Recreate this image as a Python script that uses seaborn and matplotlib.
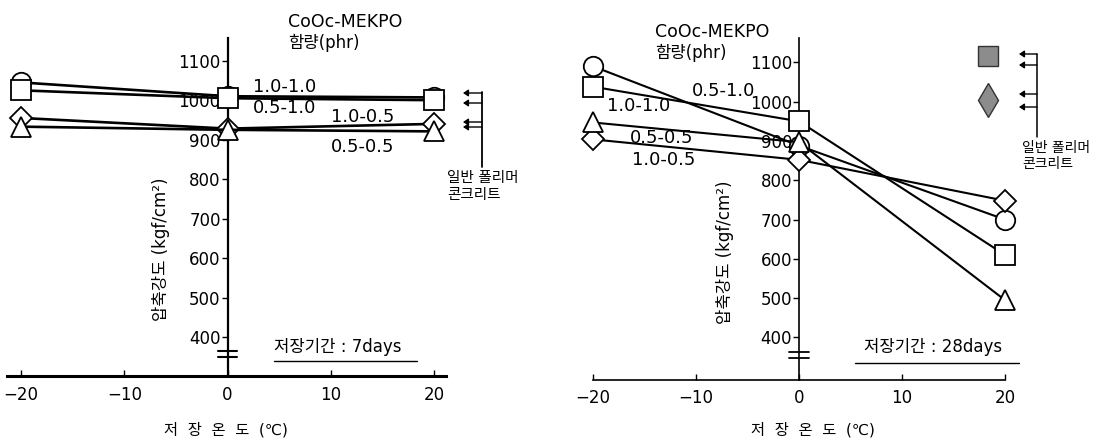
import matplotlib
matplotlib.use("Agg")
import matplotlib.pyplot as plt
from matplotlib.lines import Line2D
import numpy as np
import pandas as pd
import seaborn as sns

# ---------------- data ----------------
temps = [-20, 0, 20]
series_names = ["1.0-1.0", "0.5-1.0", "1.0-0.5", "0.5-0.5"]
series_markers = ["o", "s", "D", "^"]
# storage period 7 days
d7_10_10 = [1045, 1010, 1007]
d7_05_10 = [1025, 1005, 1000]
d7_10_05 = [955, 928, 940]
d7_05_05 = [933, 925, 921]
# storage period 28 days
d28_10_10 = [1090, 888, 700]
d28_05_10 = [1038, 950, 610]
d28_10_05 = [904, 852, 748]
d28_05_05 = [947, 897, 495]

x_ticks = [-20, -10, 0, 10, 20]
y_ticks = [400, 500, 600, 700, 800, 900, 1000, 1100]

rows = []
for period, sets in (("7", [d7_10_10, d7_05_10, d7_10_05, d7_05_05]),
                     ("28", [d28_10_10, d28_05_10, d28_10_05, d28_05_05])):
    for name, vals in zip(series_names, sets):
        for t, v in zip(temps, vals):
            rows.append({"period": period, "series": name, "temp": t, "strength": v})
df = pd.DataFrame(rows)

# ---------------- style ----------------
sns.set_theme(style="ticks")
plt.rcParams["font.family"] = ["DejaVu Sans", "Noto Sans CJK KR"]
plt.rcParams["axes.unicode_minus"] = True

W, H = 1103, 440
fig = plt.figure(figsize=(W / 100, H / 100), dpi=100)
fig.patch.set_facecolor("white")


def fx(px):
    return px / W


def fy(py):
    return 1 - py / H


def rect(l, t, r, b):
    return [fx(l), fy(b), (r - l) / W, (b - t) / H]


axL = fig.add_axes(rect(7, 38, 446, 376))
axR = fig.add_axes(rect(593, 38, 1005, 379.5))

panels = [
    (axL, "7", (-21.36, 21.15), (301.5, 1157.5), 1.9, 2.2, 1.6),
    (axR, "28", (-20, 20), (293, 1162), 1.5, 1.2, 1.2),
]

for ax, period, xl, yl, lw, xspw, yspw in panels:
    ax.set_facecolor("white")
    sub = df[df["period"] == period]
    for i, (name, mk) in enumerate(zip(series_names, series_markers)):
        s = sub[sub["series"] == name]
        ms = 14 if mk in ("o", "s") else (15 if mk == "^" else 11)
        sns.lineplot(data=s, x="temp", y="strength", ax=ax, color="black",
                     linewidth=lw, marker=mk, markersize=ms,
                     markerfacecolor="white", markeredgecolor="black",
                     markeredgewidth=1.3, clip_on=False, legend=False,
                     zorder=3 + i)
    ax.set_xlim(*xl)
    ax.set_ylim(*yl)
    ax.set_xticks(x_ticks)
    ax.set_xticklabels([f"{t}" if t >= 0 else f"\u2212{abs(t)}" for t in x_ticks])
    ax.set_yticks(y_ticks)
    ax.set_yticklabels([str(v) for v in y_ticks])
    ax.spines["left"].set_position(("data", 0))
    ax.spines["top"].set_visible(False)
    ax.spines["right"].set_visible(False)
    ax.spines["bottom"].set_linewidth(xspw)
    ax.spines["left"].set_linewidth(yspw)
    ax.spines["bottom"].set_color("black")
    ax.spines["left"].set_color("black")
    ax.tick_params(axis="x", direction="in", length=4, width=1, pad=7,
                   labelsize=12, colors="black")
    ax.tick_params(axis="y", direction="out", length=4, width=1, pad=1,
                   labelsize=12, colors="black")
    ax.grid(False)

# axis labels
axL.set_ylabel("압축강도 (kgf/cm²)", fontsize=12, va="center", color="black")
axL.yaxis.set_label_coords(0.35, 0.375)
axR.set_ylabel("압축강도 (kgf/cm²)", fontsize=12, va="center", color="black")
axR.yaxis.set_label_coords(0.32, 0.374)
axL.set_xlabel("저  장  온  도  (℃)", fontsize=11, va="center", color="black")
axL.xaxis.set_label_coords(0.499, -0.16)
axR.set_xlabel("저  장  온  도  (℃)", fontsize=11, va="center", color="black")
axR.xaxis.set_label_coords(0.535, -0.146)


def ftext(px, py, s, size, ha="left", va="center"):
    fig.text(fx(px), fy(py), s, fontsize=size, ha=ha, va=va, color="black")


def fline(x0, y0, x1, y1, lw=1.0):
    fig.add_artist(Line2D([fx(x0), fx(x1)], [fy(y0), fy(y1)],
                          transform=fig.transFigure, color="black", lw=lw))


def farrow(x0, y, x1):
    fig.add_artist(matplotlib.patches.FancyArrowPatch(
        (fx(x0), fy(y)), (fx(x1), fy(y)), transform=fig.transFigure,
        arrowstyle="-|>,head_length=3,head_width=2", color="black", lw=1.0,
        shrinkA=0, shrinkB=0))


# ---- left panel annotations ----
ftext(288, 22, "CoOc-MEKPO", 12.5)
ftext(288, 43, "함량(phr)", 12)
ftext(253, 87, "1.0-1.0", 13)
ftext(253, 108, "0.5-1.0", 13)
ftext(331, 117, "1.0-0.5", 13)
ftext(331, 147, "0.5-0.5", 13)
ftext(274, 347, "저장기간 : 7days", 12)
fline(274, 361, 417, 361, 1.0)
for yy in (93, 103, 122, 127):
    farrow(482, yy, 463)
fline(482, 92, 482, 167, 1.3)
ftext(447, 177, "일반 폴리머", 10.5)
ftext(447, 195, "콘크리트", 10.5)
# axis break marks
fline(218, 351, 237, 351, 1.5)
fline(218, 357, 237, 357, 1.5)

# ---- right panel annotations ----
ftext(655, 32, "CoOc-MEKPO", 12.5)
ftext(655, 53, "함량(phr)", 12)
ftext(692, 91, "0.5-1.0", 13)
ftext(607, 106, "1.0-1.0", 13)
ftext(630, 138, "0.5-0.5", 13)
ftext(632, 160, "1.0-0.5", 13)
ftext(864, 347, "저장기간 : 28days", 12)
fline(855, 363, 1019, 363, 1.0)
fig.add_artist(Line2D([fx(988)], [fy(56)], marker="s", markersize=14,
                      markerfacecolor="#8c8c8c", markeredgecolor="#333333",
                      transform=fig.transFigure, linestyle="none"))
fig.add_artist(Line2D([fx(988)], [fy(100)], marker="d", markersize=17,
                      markerfacecolor="#8c8c8c", markeredgecolor="#333333",
                      transform=fig.transFigure, linestyle="none"))
for yy in (54, 65, 94, 107):
    farrow(1037, yy, 1019)
fline(1037, 54, 1037, 137, 1.1)
ftext(1022, 148, "일반 폴리머", 10)
ftext(1022, 164, "콘크리트", 10)
fline(789, 352, 809, 352, 1.3)
fline(789, 358, 809, 358, 1.3)

fig.savefig("out.png", dpi=100, facecolor="white")
